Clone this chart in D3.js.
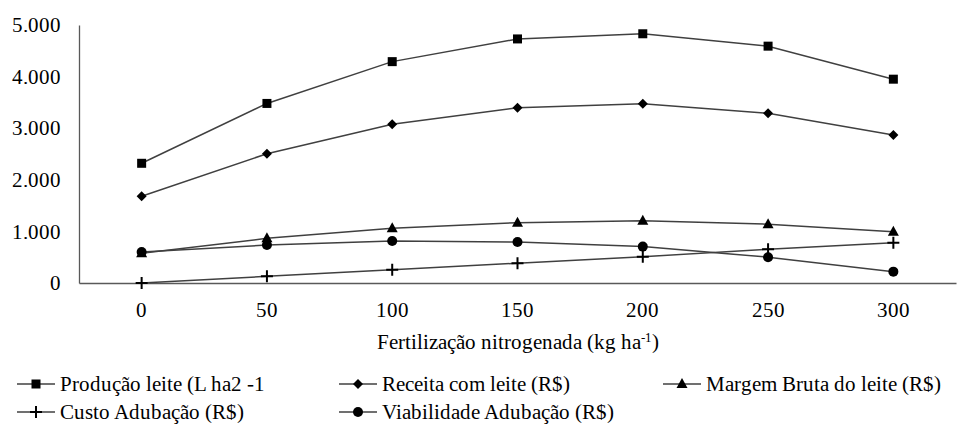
<!DOCTYPE html>
<html><head><meta charset="utf-8">
<script src="https://cdn.jsdelivr.net/npm/d3@7"></script>
<style>
@font-face{font-family:"ChartSerif";src:local("Liberation Serif"),local("LiberationSerif-Regular"),local("Times New Roman");}
svg text{font-family:"ChartSerif","Liberation Serif","Times New Roman",Times,serif;}
</style>
</head><body style="margin:0"><svg id="c" width="960" height="425"></svg>
<script>
const categories = ["0","50","100","150","200","250","300"];
const producao = [2320,3480,4290,4730,4830,4590,3950];
const receita = [1680,2505,3075,3395,3475,3290,2870];
const margem = [575,865,1060,1170,1205,1140,995];
const custo = [0,130,255,385,510,655,780];
const viabilidade = [600,735,815,795,705,500,220];
const yTicks = [0,1000,2000,3000,4000,5000];
const seriesNames = ["Produção leite (L ha2 -1","Receita com leite (R$)","Margem Bruta do leite (R$)","Custo Adubação (R$)","Viabilidade Adubação (R$)"];
const seriesValues = [producao,receita,margem,custo,viabilidade];
const markerTypes = ["square","diamond","triangle","plus","circle"];

const FS = 21;
const svg = d3.select("#c");
const x = d3.scaleBand().domain(categories).range([79,956]);
const y = d3.scaleLinear().domain([0,5000]).range([283,25]);
const loc = d3.formatLocale({decimal:",",thousands:".",grouping:[3],currency:["R$",""]});
const fmt = loc.format(",.0f");
const lineColor = "#404040";

const ya = svg.append("g").attr("transform","translate(79,0)")
  .call(d3.axisLeft(y).tickValues(yTicks).tickFormat(fmt).tickSize(0).tickPadding(18));
ya.attr("font-family",null).attr("font-size",FS);
ya.select(".domain").attr("stroke","#595959").attr("stroke-width",1.3);
ya.selectAll("text").attr("fill","#000");

const xa = svg.append("g").attr("transform","translate(0,283)")
  .call(d3.axisBottom(x).tickSize(0).tickPadding(19));
xa.attr("font-family",null).attr("font-size",FS);
xa.select(".domain").attr("stroke","#595959").attr("stroke-width",1.3);
xa.selectAll("text").attr("fill","#000");

const t = svg.append("text").attr("x",(79+956)/2).attr("y",349).attr("text-anchor","middle").attr("font-size",FS).attr("fill","#000");
t.append("tspan").text("Fertilização nitrogenada (kg ha");
t.append("tspan").text("-1").attr("dy",-7).attr("font-size",13);
t.append("tspan").text(")").attr("dy",7);

function drawMarker(g, type, cx, cy){
  if(type==="square") g.append("rect").attr("x",cx-4.5).attr("y",cy-4.5).attr("width",9).attr("height",9).attr("fill","#000");
  else if(type==="diamond") g.append("path").attr("d",`M${cx},${cy-5}L${cx+5},${cy}L${cx},${cy+5}L${cx-5},${cy}Z`).attr("fill","#000");
  else if(type==="triangle") g.append("path").attr("d",`M${cx},${cy-6}L${cx+5.5},${cy+4}L${cx-5.5},${cy+4}Z`).attr("fill","#000");
  else if(type==="circle") g.append("circle").attr("cx",cx).attr("cy",cy).attr("r",5).attr("fill","#000");
  else if(type==="plus") g.append("path").attr("d",`M${cx-6},${cy}H${cx+6}M${cx},${cy-6}V${cy+6}`).attr("stroke","#000").attr("stroke-width",2);
}

const line = d3.line().x((d,i)=>x(categories[i])+x.bandwidth()/2).y(d=>y(d));
seriesValues.forEach((vals,si)=>{
  const g = svg.append("g");
  g.append("path").attr("d",line(vals)).attr("fill","none").attr("stroke",lineColor).attr("stroke-width",1.5);
  vals.forEach((v,i)=>drawMarker(g, markerTypes[si], x(categories[i])+x.bandwidth()/2, y(v)));
});

const legPos = [[17,384],[339,384],[663,384],[17,412],[339,412]];
seriesNames.forEach((name,i)=>{
  const [lx,ly] = legPos[i];
  const g = svg.append("g");
  g.append("line").attr("x1",lx).attr("x2",lx+38).attr("y1",ly).attr("y2",ly).attr("stroke",lineColor).attr("stroke-width",1.5);
  drawMarker(g, markerTypes[i], lx+19, ly);
  g.append("text").attr("x",lx+43).attr("y",ly).attr("dy","0.35em").attr("font-size",FS).attr("fill","#000").text(name);
});
</script></body></html>
